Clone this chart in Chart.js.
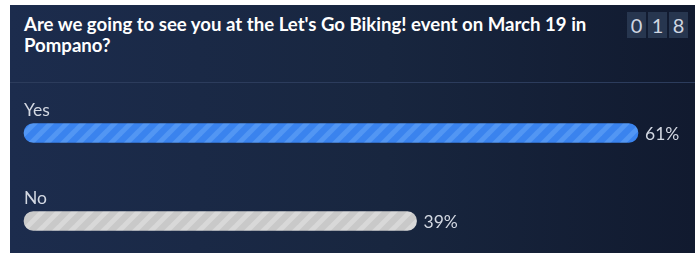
<!DOCTYPE html>
<html>
<head>
<meta charset="utf-8">
<script src="https://cdn.jsdelivr.net/npm/chart.js@4.4.0/dist/chart.umd.min.js"></script>
<style>
  html, body { margin: 0; padding: 0; background: #ffffff; overflow: hidden; }
  body { width: 695px; height: 253px; position: relative; font-family: Lato, "Open Sans", sans-serif; }
  .panel {
    position: absolute; left: 10px; top: 5px; width: 685px; height: 248px;
    background: linear-gradient(90deg, #1c2c4d 0%, #18263f 55%, #111a2f 100%);
  }
  .question {
    position: absolute; left: 14px; top: 9px; width: 600px;
    color: #ffffff; font-weight: bold; font-size: 18.6px; line-height: 21px;
  }
  .counter { position: absolute; left: 617px; top: 7px; display: flex; gap: 2px; }
  .counter span {
    display: block; width: 19px; height: 26px; background: #27364f;
    color: #cfd5e1; font-size: 20px; line-height: 26px; text-align: center;
  }
  .divider { position: absolute; left: 0; top: 77px; width: 685px; height: 1px; background: #2c3c5c; }
  .chart-box { position: absolute; left: 0; top: 79px; width: 685px; height: 169px; }
</style>
</head>
<body>
<div class="panel">
  <div class="question">Are we going to see you at the Let's Go Biking! event on March 19 in Pompano?</div>
  <div class="counter" id="counter"></div>
  <div class="divider"></div>
  <div class="chart-box"><canvas id="poll"></canvas></div>
</div>
<script>
const categories = ['Yes', 'No'];
const percentages = [61, 39];
const responseCount = ['0', '1', '8'];

const counter = document.getElementById('counter');
responseCount.forEach(d => {
  const s = document.createElement('span');
  s.textContent = d;
  counter.appendChild(s);
});

// diagonal stripe fill like the poll widget
function stripes(base, light) {
  const c = document.createElement('canvas');
  c.width = 16; c.height = 16;
  const g = c.getContext('2d');
  g.fillStyle = base;
  g.fillRect(0, 0, 16, 16);
  g.strokeStyle = light;
  g.lineWidth = 5;
  [[-8, 8, 8, -8], [0, 16, 16, 0], [8, 24, 24, 8]].forEach(l => {
    g.beginPath();
    g.moveTo(l[0], l[1]);
    g.lineTo(l[2], l[3]);
    g.stroke();
  });
  return g.createPattern(c, 'repeat');
}

const barFills = [stripes('#3a83ee', '#5296f3'), stripes('#c9c9c9', '#d8d8d8')];

// category name above each bar and percentage after the bar end
const pollLabels = {
  id: 'pollLabels',
  afterDatasetsDraw(chart) {
    const ctx = chart.ctx;
    const meta = chart.getDatasetMeta(0);
    ctx.save();
    meta.data.forEach((bar, i) => {
      const h = bar.height;
      ctx.font = '17.5px Lato';
      ctx.fillStyle = '#d3d8e2';
      ctx.textAlign = 'left';
      ctx.textBaseline = 'alphabetic';
      ctx.fillText(categories[i], chart.chartArea.left, bar.y - h / 2 - 8);
      ctx.textBaseline = 'middle';
      ctx.fillText(percentages[i] + '%', bar.x + 7, bar.y + 1);
    });
    ctx.restore();
  }
};

new Chart(document.getElementById('poll'), {
  type: 'bar',
  plugins: [pollLabels],
  data: {
    labels: categories,
    datasets: [{
      data: percentages,
      backgroundColor: barFills,
      borderWidth: 0,
      borderRadius: 10,
      borderSkipped: false,
      barThickness: 19,
      clip: false
    }]
  },
  options: {
    indexAxis: 'y',
    responsive: true,
    maintainAspectRatio: false,
    animation: false,
    layout: { padding: { left: 14, right: 57, top: 49, bottom: 32 } },
    plugins: { legend: { display: false }, tooltip: { enabled: false } },
    scales: {
      x: { min: 0, max: 61, display: false },
      y: { offset: false, display: false }
    }
  }
});
</script>
</body>
</html>
